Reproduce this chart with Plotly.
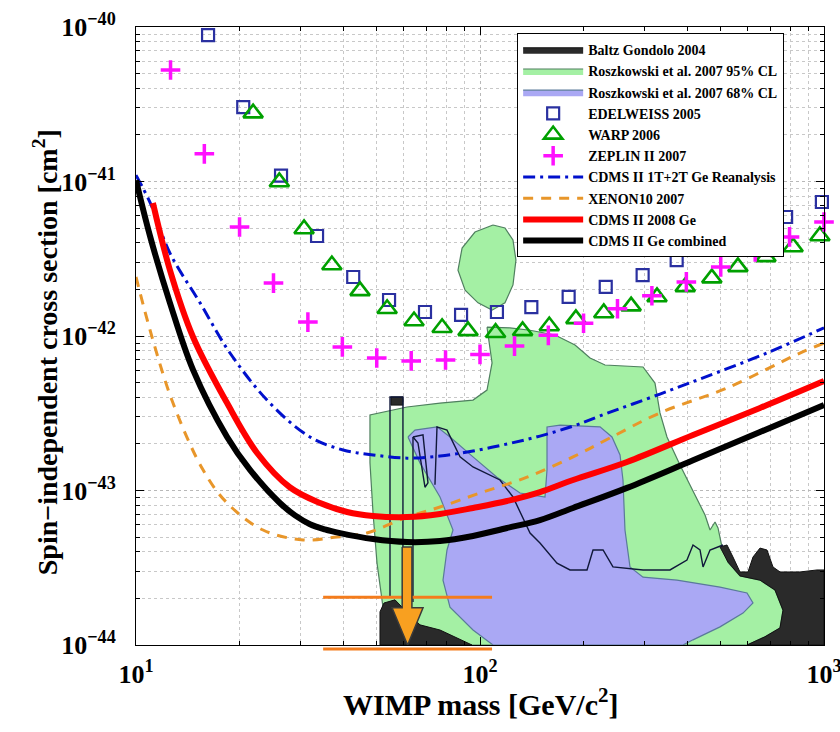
import plotly.graph_objects as go

# ---------------- data ----------------
x_tick_vals = [10, 100, 1000]
x_tick_text = ["10<sup>1</sup>", "10<sup>2</sup>", "10<sup>3</sup>"]
y_tick_vals = [1e-44, 1e-43, 1e-42, 1e-41, 1e-40]
y_tick_text = ["10<sup>−44</sup>", "10<sup>−43</sup>", "10<sup>−42</sup>", "10<sup>−41</sup>", "10<sup>−40</sup>"]

edelweiss_mass = [16.2, 20.5, 26.4, 33.6, 42.8, 54.4, 69.2, 88.1, 112, 141, 181, 232, 297, 373, 476, 609, 776, 986]
edelweiss_sigma = [8.87e-41, 3.03e-41, 1.09e-41, 4.44e-42, 2.41e-42, 1.71e-42, 1.43e-42, 1.37e-42, 1.43e-42,
                   1.54e-42, 1.79e-42, 2.08e-42, 2.48e-42, 3.10e-42, 3.77e-42, 4.71e-42, 5.89e-42, 7.37e-42]

warp_mass = [18.2, 21.9, 26.1, 30.8, 37.1, 44.8, 53.7, 64.3, 77.6, 92.3, 111, 133, 159, 190, 229, 275, 327,
             395, 472, 562, 678, 813, 973]
warp_sigma = [1.01e-40, 2.77e-41, 9.93e-42, 4.93e-42, 2.88e-42, 1.96e-42, 1.50e-42, 1.25e-42, 1.13e-42, 1.08e-42,
              1.05e-42, 1.08e-42, 1.16e-42, 1.29e-42, 1.41e-42, 1.56e-42, 1.79e-42, 2.08e-42, 2.37e-42, 2.80e-42,
              3.25e-42, 3.77e-42, 4.44e-42]

zeplin_mass = [12.6, 15.8, 20.0, 25.1, 31.6, 39.8, 50.1, 63.1, 79.4, 100, 126, 158, 200, 251, 316, 398, 501,
               631, 794, 1000]
zeplin_sigma = [5.27e-41, 1.51e-41, 5.08e-42, 2.20e-42, 1.23e-42, 8.5e-43, 7.2e-43, 6.9e-43, 7.0e-43, 7.6e-43,
                8.6e-43, 1.01e-42, 1.21e-42, 1.50e-42, 1.82e-42, 2.24e-42, 2.80e-42, 3.50e-42, 4.38e-42, 5.47e-42]

reanalysis_mass = [10.0, 11.0, 12.55, 15.35, 18.76, 24.5, 32.05, 40.0, 48.9, 61.4, 76.5, 95.4, 119.8, 149.4,
                   186.4, 223.3, 333.6, 436.1, 682.8, 1000]
reanalysis_sigma = [1.10e-41, 7.26e-42, 3.44e-42, 1.64e-42, 7.76e-43, 3.68e-43, 2.22e-43, 1.83e-43, 1.70e-43,
                    1.62e-43, 1.67e-43, 1.80e-43, 2.00e-43, 2.25e-43, 2.61e-43, 3.04e-43, 4.21e-43, 5.27e-43,
                    7.76e-43, 1.13e-42]

xenon_mass = [10.0, 11.13, 12.81, 15.66, 18.4, 23.4, 30.6, 38.4, 46.9, 61.4, 76.5, 100, 137, 186.4, 238.8,
              333.6, 522.4, 851.4, 1000]
xenon_sigma = [2.41e-42, 9.86e-43, 3.68e-43, 1.36e-43, 8.30e-44, 5.55e-44, 4.79e-44, 5.00e-44, 5.31e-44,
               6.73e-44, 7.82e-44, 9.63e-44, 1.22e-43, 1.65e-43, 2.19e-43, 3.18e-43, 4.61e-43, 7.76e-43, 9.01e-43]

cdms08_mass = [11.2, 12.55, 14.65, 18.4, 22.5, 28.0, 34.3, 41.1, 48.9, 61.4, 76.5, 95.4, 119.8, 149.4, 186.4,
               267.5, 416.2, 651.6, 1000]
cdms08_sigma = [7.26e-42, 2.67e-42, 9.86e-43, 3.68e-43, 1.75e-43, 1.05e-43, 8.30e-44, 7.26e-44, 6.84e-44,
                6.73e-44, 7.05e-44, 7.71e-44, 8.55e-44, 9.77e-44, 1.17e-43, 1.53e-43, 2.29e-43, 3.42e-43, 5.11e-43]

combined_mass = [10.0, 11.0, 12.55, 14.65, 18.4, 21.45, 26.2, 29.0, 32.05, 35.4, 39.2, 48.9, 61.4, 76.5, 95.4,
                 119.8, 149.4, 186.4, 267.5, 416.2, 651.6, 1000]
combined_sigma = [1.02e-41, 4.38e-42, 1.64e-42, 6.03e-43, 2.22e-43, 1.36e-43, 8.30e-44, 6.90e-44, 6.05e-44,
                  5.60e-44, 5.30e-44, 4.85e-44, 4.64e-44, 4.71e-44, 5.08e-44, 5.72e-44, 6.44e-44, 7.71e-44,
                  1.04e-43, 1.57e-43, 2.39e-43, 3.57e-43]

# Roszkowski 95% CL region (two pieces, separated by None)
rosz95_mass = [109.1, 118.2, 124.7, 127.2, 124.7, 118.2, 108.4, 98.7, 90.5, 86.3, 88.7, 96.7, 109.1, None,
               104.8, 122.2, 139.8, 165.2, 188.9, 208.9, 230.9, 297.8, 322.6, 333.6, 349.6, 381.4, 421.7, 451.0,
               466.3, 482.2, 491.9, 498.5, 505.2, 525.9, 569.9, 651.6, 720.4, 760.1, 745.0, 673.7, 597.3, 53.66,
               52.24, 50.19, 48.87, 47.88, 47.88, 61.34, 76.51, 95.43, 104.8, 108.4, 105.5, 104.8]
rosz95_sigma = [5.23e-42, 5.00e-42, 4.18e-42, 3.10e-42, 2.14e-42, 1.64e-42, 1.47e-42, 1.64e-42, 1.98e-42,
                2.67e-42, 3.71e-42, 4.71e-42, 5.23e-42, None,
                1.14e-42, 1.13e-42, 1.09e-42, 1.015e-42, 8.74e-43, 7.20e-43, 6.49e-43, 6.30e-43, 4.96e-43,
                3.18e-43, 2.22e-43, 1.46e-43, 9.35e-44, 6.94e-44, 5.55e-44, 6.25e-44, 5.72e-44, 5.00e-44,
                4.31e-44, 3.44e-44, 2.80e-44, 2.63e-44, 2.27e-44, 1.68e-44, 1.29e-44, 1.13e-44, 1.0e-44, 1.0e-44,
                1.76e-44, 3.39e-44, 7.15e-44, 1.51e-43, 3.08e-43, 3.47e-43, 3.68e-43, 3.85e-43, 4.47e-43,
                6.69e-43, 1.09e-42, 1.14e-42]

# Roszkowski 68% CL region
rosz68_mass = [61.75, 64.71, 74.99, 81.80, 95.43, 112.0, 130.7, 154.5, 156.6, 156.6, 170.9, 223.3, 241.9, 255.3,
               260.4, 263.9, 272.9, 297.8, 373.8, 498.5, 597.3, 621.7, 581.5, 498.5, 416.1, 389.1, 109.1, 95.43,
               81.80, 78.06, 80.18, 83.46, 76.51, 66.91, 61.75]
rosz68_sigma = [2.22e-43, 2.46e-43, 2.58e-43, 2.22e-43, 1.65e-43, 1.22e-43, 9.63e-44, 9.08e-44, 1.36e-43,
                2.58e-43, 2.65e-43, 2.58e-43, 2.22e-43, 1.70e-43, 1.17e-43, 5.55e-44, 3.20e-44, 2.75e-44,
                2.63e-44, 2.37e-44, 2.17e-44, 1.87e-44, 1.61e-44, 1.31e-44, 1.08e-44, 1.0e-44, 1.0e-44,
                1.25e-44, 1.76e-44, 2.63e-44, 4.12e-44, 5.55e-44, 9.08e-44, 1.51e-43, 2.22e-43]

# Baltz & Gondolo 2004 region (three pieces)
baltz_mass = [51.20, 51.20, 52.59, 56.61, 60.53, 66.91, 76.51, 92.27, 94.78, 51.20, None,
              498.5, 522.4, 543.8, 569.9, 601.3, 621.7, 651.6, 682.8, 710.7, 745.0, 851.4, 954.3, 1000, 1000,
              597.3, 673.7, 745.0, 760.1, 720.4, 651.6, 569.9, 525.9, 498.5, None,
              55.1, 59.7, 59.7, 55.1, 55.1]
baltz_sigma = [1.0e-44, 1.64e-44, 1.87e-44, 1.96e-44, 1.68e-44, 1.35e-44, 1.25e-44, 1.03e-44, 1.0e-44, 1.0e-44,
               None,
               4.31e-44, 4.44e-44, 3.71e-44, 2.97e-44, 2.97e-44, 3.71e-44, 4.24e-44, 4.12e-44, 3.20e-44,
               2.97e-44, 2.97e-44, 3.06e-44, 3.06e-44, 1.0e-44, 1.0e-44, 1.13e-44, 1.29e-44, 1.68e-44,
               2.27e-44, 2.63e-44, 2.80e-44, 3.44e-44, 4.31e-44, None,
               4.03e-43, 4.03e-43, 3.57e-43, 3.57e-43, 4.03e-43]

# unlabelled thin contours
contour_mass = [73.97, 74.99, 80.18, 87.48, 95.43, 114.3, 124.7, 139.8, 149.4, 167.4, 182.7, 204.7, 213.1,
                227.9, 243.5, 297.8, 356.7, 399.6, 416.1, 436.1, 445.0, 466.3, 508.6, None,
                63.85, 68.27, 70.59, 69.19, 66.02, 63.85, None,
                54.75, 54.75, 59.70, 59.70, None, 63.85, 63.85]
contour_sigma = [1.09e-43, 2.58e-43, 2.46e-43, 1.65e-43, 1.42e-43, 1.17e-43, 9.08e-44, 5.31e-44, 4.57e-44,
                 3.39e-44, 3.06e-44, 3.06e-44, 4.12e-44, 4.12e-44, 3.20e-44, 3.06e-44, 3.06e-44, 3.55e-44,
                 4.44e-44, 4.12e-44, 3.20e-44, 4.12e-44, 4.44e-44, None,
                 2.22e-43, 2.29e-43, 1.12e-43, 1.05e-43, 2.03e-43, 2.22e-43, None,
                 2.04e-44, 4.03e-43, 4.03e-43, 1.87e-44, None, 2.22e-43, 1.9e-44]

# highlighted mass band annotation (arrow + horizontal bars)
arrow_mass = [59.4, 63.4, 63.4, 68.3, 61.6, 55.5, 59.4, 59.4]
arrow_sigma = [4.31e-44, 4.31e-44, 1.74e-44, 1.74e-44, 1.0e-44, 1.74e-44, 1.74e-44, 4.31e-44]
band_mass = [35.0, 108.4]
band_sigma = [2.04e-44, 2.04e-44]

# ---------------- figure ----------------
FONT = "Liberation Serif"
fig = go.Figure()

fig.add_trace(go.Scatter(x=rosz95_mass, y=rosz95_sigma, mode="lines", fill="toself",
                         fillcolor="#a4f0a4", line=dict(color="#4f7f5f", width=1.2),
                         name="Roszkowski et al. 2007 95% CL", legendrank=2, hoverinfo="skip"))
fig.add_trace(go.Scatter(x=rosz68_mass, y=rosz68_sigma, mode="lines", fill="toself",
                         fillcolor="#aaa8f4", line=dict(color="#5a7a9a", width=1.2),
                         name="Roszkowski et al. 2007 68% CL", legendrank=3, hoverinfo="skip"))
fig.add_trace(go.Scatter(x=baltz_mass, y=baltz_sigma, mode="lines", fill="toself",
                         fillcolor="#2a2a2a", line=dict(color="#111111", width=1),
                         name="Baltz Gondolo 2004", legendrank=1, hoverinfo="skip"))
fig.add_trace(go.Scatter(x=contour_mass, y=contour_sigma, mode="lines",
                         line=dict(color="#10183a", width=1.4), showlegend=False, hoverinfo="skip"))

fig.add_trace(go.Scatter(x=edelweiss_mass, y=edelweiss_sigma, mode="markers", cliponaxis=False,
                         marker=dict(symbol="square-open", size=12, color="#2a30a0", line=dict(width=2.2)),
                         name="EDELWEISS 2005", legendrank=4))
fig.add_trace(go.Scatter(x=warp_mass, y=warp_sigma, mode="markers", cliponaxis=False,
                         marker=dict(symbol="triangle-up-open", size=17, color="#00a000", line=dict(width=2.6)),
                         name="WARP 2006", legendrank=5))
fig.add_trace(go.Scatter(x=zeplin_mass, y=zeplin_sigma, mode="markers", cliponaxis=False,
                         marker=dict(symbol="cross-thin-open", size=14, color="#ff10ff",
                                     line=dict(width=3.5, color="#ff10ff")),
                         name="ZEPLIN II 2007", legendrank=6))

fig.add_trace(go.Scatter(x=reanalysis_mass, y=reanalysis_sigma, mode="lines", line_shape="spline",
                         line=dict(color="#0010cc", width=3, dash="12px,5px,3px,5px"),
                         name="CDMS II 1T+2T Ge Reanalysis", legendrank=7))
fig.add_trace(go.Scatter(x=xenon_mass, y=xenon_sigma, mode="lines", line_shape="spline",
                         line=dict(color="#e8962a", width=3, dash="10px,8px"),
                         name="XENON10 2007", legendrank=8))
fig.add_trace(go.Scatter(x=cdms08_mass, y=cdms08_sigma, mode="lines", line_shape="spline",
                         line=dict(color="#ff0000", width=6),
                         name="CDMS II 2008 Ge", legendrank=9))
fig.add_trace(go.Scatter(x=combined_mass, y=combined_sigma, mode="lines", line_shape="spline",
                         line=dict(color="#000000", width=6),
                         name="CDMS II Ge combined", legendrank=10))

fig.add_trace(go.Scatter(x=band_mass, y=band_sigma, mode="lines", line=dict(color="#f47c1c", width=3),
                         showlegend=False, hoverinfo="skip"))
fig.add_trace(go.Scatter(x=arrow_mass, y=arrow_sigma, mode="lines", fill="toself", fillcolor="#f8a020",
                         line=dict(color="#3a3a3a", width=1.5), showlegend=False, hoverinfo="skip"))

fig.add_shape(type="line", xref="x", yref="paper", x0=band_mass[0], x1=band_mass[1], y0=-0.0065, y1=-0.0065,
              line=dict(color="#f47c1c", width=3))

axis_common = dict(type="log", showline=True, linecolor="black", linewidth=1, mirror="ticks",
                   ticks="inside", ticklen=8, tickcolor="black", showgrid=True, gridcolor="#b8b8b8",
                   griddash="dot", gridwidth=1, zeroline=False, ticklabeloverflow="allow",
                   automargin=False,
                   tickfont=dict(family=FONT, size=26, color="black", weight="bold"),
                   minor=dict(ticks="inside", ticklen=4, tickcolor="black", showgrid=True,
                              gridcolor="#c8c8c8", griddash="dot", dtick="D1"))

fig.update_xaxes(range=[1, 3], tickmode="array", tickvals=x_tick_vals, ticktext=x_tick_text,
                 ticklabelstandoff=6, **axis_common)
fig.update_yaxes(range=[-44, -40], tickmode="array", tickvals=y_tick_vals, ticktext=y_tick_text,
                 ticklabelstandoff=14, **axis_common)

fig.add_annotation(text="WIMP mass [GeV/c<sup>2</sup>]", xref="paper", yref="paper", x=0.5, y=-0.092,
                   xanchor="center", yanchor="middle", showarrow=False,
                   font=dict(family=FONT, size=30, color="black", weight="bold"))
fig.add_annotation(text="Spin−independent cross section [cm<sup>2</sup>]", xref="paper", yref="paper",
                   x=-0.132, y=0.474, xanchor="center", yanchor="middle", textangle=-90, showarrow=False,
                   font=dict(family=FONT, size=28, color="black", weight="bold"))

fig.update_layout(
    width=840, height=732,
    margin=dict(l=136, r=16, t=27, b=87, autoexpand=False),
    paper_bgcolor="white", plot_bgcolor="white",
    showlegend=True,
    legend=dict(x=0.554, y=0.99, xanchor="left", yanchor="top", bgcolor="white",
                bordercolor="black", borderwidth=1,
                font=dict(family=FONT, size=14, color="black", weight="bold"),
                tracegroupgap=0, itemwidth=60),
)

fig.write_html("out.html")
